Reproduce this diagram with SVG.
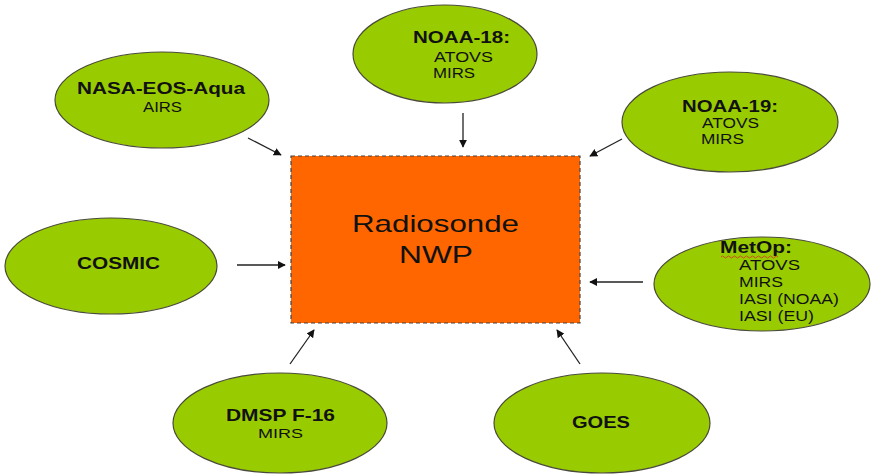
<svg xmlns="http://www.w3.org/2000/svg" width="874" height="476" viewBox="0 0 874 476">
<defs>
<style>
.node ellipse{fill:#99CC00;stroke:#4a4a3a;stroke-width:1.2}
.hub rect{fill:#FF6600;stroke:#444;stroke-width:1.2;stroke-dasharray:4 3}
text{font-family:"Liberation Sans",Arial,sans-serif;fill:#111}
.b{font-weight:bold;font-size:17px}
.r{font-size:14px}
.big{font-size:24px}
.conn line{stroke:#222;stroke-width:1.3;marker-end:url(#ah)}
</style>
<marker id="ah" viewBox="0 0 10 10" refX="9" refY="5" markerWidth="8" markerHeight="8" orient="auto" markerUnits="userSpaceOnUse">
<path d="M0,0 L10,5 L0,10 z" fill="#111"/>
</marker>
</defs>
<rect width="874" height="476" fill="#fff"/>
<g id="hub" class="hub">
<rect x="291" y="156" width="289" height="167"/>
<text class="big" x="352" y="232" textLength="167" lengthAdjust="spacingAndGlyphs">Radiosonde</text>
<text class="big" x="399" y="263" textLength="74" lengthAdjust="spacingAndGlyphs">NWP</text>
</g>
<g id="nasa" class="node">
<ellipse cx="162" cy="100" rx="107" ry="48"/>
<text class="b" x="77" y="94" textLength="168" lengthAdjust="spacingAndGlyphs">NASA-EOS-Aqua</text>
<text class="r" x="143" y="112" textLength="39" lengthAdjust="spacingAndGlyphs">AIRS</text>
</g>
<g id="noaa18" class="node">
<ellipse cx="445" cy="54" rx="92" ry="49"/>
<text class="b" x="413" y="43" textLength="97" lengthAdjust="spacingAndGlyphs">NOAA-18:</text>
<text class="r" x="434" y="62" textLength="59" lengthAdjust="spacingAndGlyphs">ATOVS</text>
<text class="r" x="433" y="78" textLength="42" lengthAdjust="spacingAndGlyphs">MIRS</text>
</g>
<g id="noaa19" class="node">
<ellipse cx="730" cy="122" rx="108" ry="50"/>
<text class="b" x="682" y="112" textLength="96" lengthAdjust="spacingAndGlyphs">NOAA-19:</text>
<text class="r" x="702" y="128" textLength="57" lengthAdjust="spacingAndGlyphs">ATOVS</text>
<text class="r" x="701" y="144" textLength="43" lengthAdjust="spacingAndGlyphs">MIRS</text>
</g>
<g id="cosmic" class="node">
<ellipse cx="111" cy="266" rx="106" ry="48"/>
<text class="b" x="77" y="269" textLength="83" lengthAdjust="spacingAndGlyphs">COSMIC</text>
</g>
<g id="metop" class="node">
<ellipse cx="762" cy="284" rx="108" ry="47"/>
<text class="b" x="720" y="253" textLength="72" lengthAdjust="spacingAndGlyphs">MetOp:</text>
<path d="M721,257 q1.5,-2 3,0 t3,0 t3,0 t3,0 t3,0 t3,0 t3,0 t3,0 t3,0 t3,0 t3,0 t3,0 t3,0 t3,0 t3,0 t3,0 t3,0 t3,0 t3,0" fill="none" stroke="#d04020" stroke-width="0.9"/>
<text class="r" x="739" y="270" textLength="61" lengthAdjust="spacingAndGlyphs">ATOVS</text>
<text class="r" x="739" y="287" textLength="44" lengthAdjust="spacingAndGlyphs">MIRS</text>
<text class="r" x="739" y="304" textLength="100" lengthAdjust="spacingAndGlyphs">IASI (NOAA)</text>
<text class="r" x="739" y="321" textLength="75" lengthAdjust="spacingAndGlyphs">IASI (EU)</text>
</g>
<g id="dmsp" class="node">
<ellipse cx="280" cy="423" rx="107" ry="50"/>
<text class="b" x="226" y="421" textLength="109" lengthAdjust="spacingAndGlyphs">DMSP F-16</text>
<text x="258" y="438" font-size="13" textLength="45" lengthAdjust="spacingAndGlyphs">MIRS</text>
</g>
<g id="goes" class="node">
<ellipse cx="602" cy="423" rx="108" ry="50"/>
<text class="b" x="572" y="428" textLength="58" lengthAdjust="spacingAndGlyphs">GOES</text>
</g>
<g id="connectors" class="conn">
<line x1="248" y1="138" x2="281" y2="155"/>
<line x1="463" y1="113" x2="463" y2="147"/>
<line x1="622" y1="139" x2="590" y2="156"/>
<line x1="237" y1="265" x2="285" y2="265"/>
<line x1="643" y1="282" x2="590" y2="282"/>
<line x1="290" y1="364" x2="314" y2="330"/>
<line x1="580" y1="364" x2="557" y2="330"/>
</g>
</svg>
